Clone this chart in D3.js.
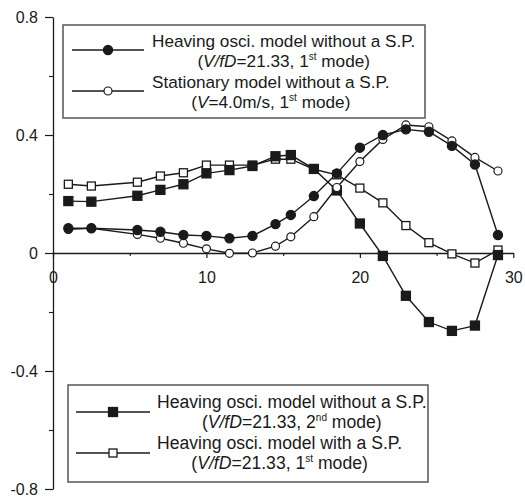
<!DOCTYPE html>
<html>
<head>
<meta charset="utf-8">
<script src="https://cdn.jsdelivr.net/npm/d3@7"></script>
<style>
  body { margin: 0; background: #fff; }
  svg { display: block; font-family: "Liberation Sans", Arial, sans-serif; }
</style>
</head>
<body>
<svg id="chart" width="525" height="501"></svg>
<script>
// positions along x
const xPositions = [1, 2.5, 5.5, 7, 8.5, 10, 11.5, 13, 14.5, 15.5, 17, 18.5, 20, 21.5, 23, 24.5, 26, 27.5, 29];

// Heaving osci. model without a S.P., 1st mode (filled circles)
const heaveNoSP1 = [0.084, 0.084, 0.078, 0.072, 0.061, 0.058, 0.050, 0.058, 0.098, 0.129, 0.193, 0.270, 0.357, 0.400, 0.419, 0.411, 0.363, 0.300, 0.061];
// Stationary model without a S.P., 1st mode (open circles)
const statNoSP1 = [0.080, 0.084, 0.063, 0.050, 0.033, 0.014, -0.001, 0.000, 0.023, 0.055, 0.123, 0.222, 0.310, 0.385, 0.434, 0.428, 0.380, 0.324, 0.278];
// Heaving osci. model without a S.P., 2nd mode (filled squares)
const heaveNoSP2 = [0.176, 0.174, 0.194, 0.214, 0.233, 0.270, 0.281, 0.295, 0.328, 0.332, 0.285, 0.212, 0.100, -0.010, -0.145, -0.234, -0.264, -0.246, -0.007];
// Heaving osci. model with a S.P., 1st mode (open squares)
const heaveSP1 = [0.233, 0.227, 0.240, 0.261, 0.272, 0.298, 0.298, 0.298, 0.318, 0.318, 0.284, 0.265, 0.220, 0.170, 0.093, 0.035, -0.003, -0.034, 0.010];

const xTicks = [0, 10, 20, 30];
const xMinorTicks = [5, 15, 25];
const yTicks = [-0.8, -0.4, 0, 0.4, 0.8];
const yTickLabels = ['-0.8', '-0.4', '0', '0.4', '0.8'];
const yMinorTicks = [-0.6, -0.2, 0.2, 0.6];

const svg = d3.select('#chart');
const ink = '#1a1a1a';

const x = d3.scaleLinear().domain([0, 30]).range([53, 513.3]);
const y = d3.scaleLinear().domain([-0.8, 0.8]).range([489, 17]);

// y axis
const yAxis = svg.append('g')
  .attr('transform', `translate(${x(0)},0)`)
  .call(d3.axisLeft(y).tickValues(yTicks).tickSize(8).tickSizeOuter(0)
    .tickFormat((d, i) => yTickLabels[i]));
yAxis.select('.domain').attr('stroke', ink).attr('stroke-width', 1.3);
yAxis.selectAll('.tick line').attr('stroke', ink).attr('stroke-width', 1.2);
yAxis.selectAll('.tick text')
  .attr('x', -15).attr('dy', '0.36em')
  .attr('fill', ink).style('font-size', '16px');

svg.append('g')
  .attr('transform', `translate(${x(0)},0)`)
  .call(d3.axisLeft(y).tickValues(yMinorTicks).tickSize(4).tickSizeOuter(0).tickFormat(''))
  .call(g => g.select('.domain').remove())
  .selectAll('.tick line').attr('stroke', ink).attr('stroke-width', 1.1);

// x axis along y = 0
const xAxis = svg.append('g')
  .attr('transform', `translate(0,${y(0)})`)
  .call(d3.axisBottom(x).tickValues(xTicks).tickSize(5).tickSizeOuter(0));
xAxis.select('.domain').attr('stroke', ink).attr('stroke-width', 1.3);
xAxis.selectAll('.tick line').attr('stroke', ink).attr('stroke-width', 1.2);
xAxis.selectAll('.tick text')
  .attr('y', 30).attr('dy', 0)
  .attr('fill', ink).style('font-size', '16px');

svg.append('g')
  .attr('transform', `translate(0,${y(0)})`)
  .call(d3.axisBottom(x).tickValues(xMinorTicks).tickSize(3).tickFormat(''))
  .call(g => g.select('.domain').remove())
  .selectAll('.tick line').attr('stroke', ink).attr('stroke-width', 1.1);

// series
const series = [
  { values: heaveSP1, shape: 'square', filled: false },
  { values: heaveNoSP2, shape: 'square', filled: true },
  { values: statNoSP1, shape: 'circle', filled: false },
  { values: heaveNoSP1, shape: 'circle', filled: true }
];

const line = d3.line().x(d => x(d[0])).y(d => y(d[1]));

function drawMarker(g, shape, filled, cx, cy) {
  if (shape === 'circle') {
    g.append('circle')
      .attr('cx', cx).attr('cy', cy)
      .attr('r', filled ? 4.6 : 4)
      .attr('fill', filled ? ink : '#fff')
      .attr('stroke', ink).attr('stroke-width', 1.2);
  } else {
    const s = filled ? 9 : 8;
    g.append('rect')
      .attr('x', cx - s / 2).attr('y', cy - s / 2)
      .attr('width', s).attr('height', s)
      .attr('fill', filled ? ink : '#fff')
      .attr('stroke', ink).attr('stroke-width', 1.3);
  }
}

series.forEach(s => {
  const pts = xPositions.map((xv, i) => [xv, s.values[i]]);
  svg.append('path')
    .datum(pts)
    .attr('d', line)
    .attr('fill', 'none')
    .attr('stroke', ink)
    .attr('stroke-width', 1.4);
});
series.forEach(s => {
  const g = svg.append('g');
  xPositions.forEach((xv, i) => drawMarker(g, s.shape, s.filled, x(xv), y(s.values[i])));
});

// legends
function legendLabel(g, xStart, baseline, size, first, secondParts) {
  const t1 = g.append('text')
    .attr('x', xStart).attr('y', baseline)
    .attr('fill', ink).style('font-size', size + 'px')
    .text(first);
  const w = t1.node().getComputedTextLength();
  const t2 = g.append('text')
    .attr('x', xStart + w / 2).attr('y', baseline + 20)
    .attr('text-anchor', 'middle')
    .attr('fill', ink).style('font-size', size + 'px');
  secondParts.forEach(p => {
    const ts = t2.append('tspan').text(p.t);
    if (p.i) ts.style('font-style', 'italic');
    if (p.sup) ts.style('font-size', '10px').attr('dy', -7);
    if (p.after) ts.attr('dy', 7);
  });
}

function legendBox(x0, y0, x1, y1, size, entries) {
  const g = svg.append('g');
  g.append('rect')
    .attr('x', x0).attr('y', y0)
    .attr('width', x1 - x0).attr('height', y1 - y0)
    .attr('fill', '#fff').attr('stroke', '#555').attr('stroke-width', 1.5);
  entries.forEach(e => {
    g.append('line')
      .attr('x1', e.lx0).attr('x2', e.lx1)
      .attr('y1', e.ly).attr('y2', e.ly)
      .attr('stroke', ink).attr('stroke-width', 1.4);
    drawMarker(g, e.shape, e.filled, (e.lx0 + e.lx1) / 2, e.ly);
    legendLabel(g, e.tx, e.ty, size, e.first, e.second);
  });
}

const vfd = [{ t: '(' }, { t: 'V/fD', i: true }, { t: '=21.33, ' }];

legendBox(63, 25, 425, 118, 17.2, [
  { lx0: 72, lx1: 144, ly: 50, shape: 'circle', filled: true, tx: 152, ty: 47,
    first: 'Heaving osci. model without a S.P.',
    second: vfd.concat([{ t: '1' }, { t: 'st', sup: true }, { t: ' mode)', after: true }]) },
  { lx0: 72, lx1: 144, ly: 91, shape: 'circle', filled: false, tx: 152, ty: 88,
    first: 'Stationary model without a S.P.',
    second: [{ t: '(' }, { t: 'V', i: true }, { t: '=4.0m/s, 1' }, { t: 'st', sup: true }, { t: ' mode)', after: true }] }
]);

legendBox(68, 385, 428, 482, 17.6, [
  { lx0: 76, lx1: 150, ly: 412, shape: 'square', filled: true, tx: 157, ty: 408,
    first: 'Heaving osci. model without a S.P.',
    second: vfd.concat([{ t: '2' }, { t: 'nd', sup: true }, { t: ' mode)', after: true }]) },
  { lx0: 76, lx1: 150, ly: 453, shape: 'square', filled: false, tx: 157, ty: 449,
    first: 'Heaving osci. model with a S.P.',
    second: vfd.concat([{ t: '1' }, { t: 'st', sup: true }, { t: ' mode)', after: true }]) }
]);
</script>
</body>
</html>
